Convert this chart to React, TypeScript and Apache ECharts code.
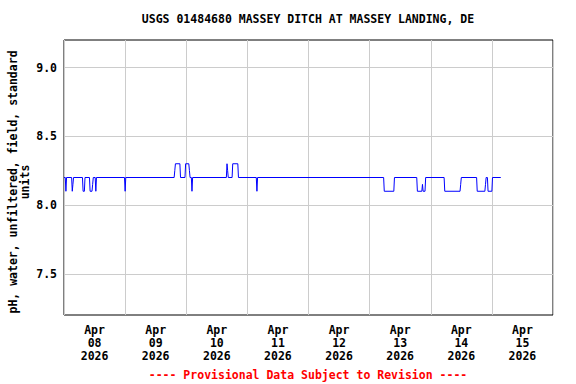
import React, { useEffect, useRef } from "react";
import * as echarts from "echarts";

const titleText = "USGS 01484680 MASSEY DITCH AT MASSEY LANDING, DE";
const yAxisName = "pH, water, unfiltered, field, standard\nunits";
const footerText = "---- Provisional Data Subject to Revision ----";

const dayLabels = [
  "Apr\n08\n2026",
  "Apr\n09\n2026",
  "Apr\n10\n2026",
  "Apr\n11\n2026",
  "Apr\n12\n2026",
  "Apr\n13\n2026",
  "Apr\n14\n2026",
  "Apr\n15\n2026",
];

const yGridValues = [7.5, 8.0, 8.5, 9.0];

const obsTimes = [
  "2026-04-08 00:00", "2026-04-08 00:30", "2026-04-08 00:45", "2026-04-08 01:00",
  "2026-04-08 03:00", "2026-04-08 03:15", "2026-04-08 03:30", "2026-04-08 03:45",
  "2026-04-08 07:15", "2026-04-08 07:30", "2026-04-08 08:00", "2026-04-08 08:15",
  "2026-04-08 10:00", "2026-04-08 10:15", "2026-04-08 11:00", "2026-04-08 11:15",
  "2026-04-08 11:30", "2026-04-08 12:15", "2026-04-08 12:30", "2026-04-08 12:45",
  "2026-04-08 23:45", "2026-04-09 00:00", "2026-04-09 00:15",
  "2026-04-09 19:15", "2026-04-09 19:30", "2026-04-09 19:45", "2026-04-09 21:30",
  "2026-04-09 21:45", "2026-04-09 23:30", "2026-04-09 23:45",
  "2026-04-10 01:00", "2026-04-10 01:15", "2026-04-10 01:30", "2026-04-10 02:00",
  "2026-04-10 02:15", "2026-04-10 02:30", "2026-04-10 15:45", "2026-04-10 16:00",
  "2026-04-10 16:15", "2026-04-10 16:30", "2026-04-10 18:00", "2026-04-10 18:15",
  "2026-04-10 20:15", "2026-04-10 20:30",
  "2026-04-11 03:30", "2026-04-11 03:45", "2026-04-11 04:00",
  "2026-04-13 05:30", "2026-04-13 05:45", "2026-04-13 09:30", "2026-04-13 09:45",
  "2026-04-13 18:30", "2026-04-13 18:45", "2026-04-13 20:30", "2026-04-13 20:45",
  "2026-04-13 21:00", "2026-04-13 21:45", "2026-04-13 22:00",
  "2026-04-14 05:15", "2026-04-14 05:30", "2026-04-14 11:30", "2026-04-14 11:45",
  "2026-04-14 12:00", "2026-04-14 18:00", "2026-04-14 18:15", "2026-04-14 21:15",
  "2026-04-14 21:30", "2026-04-14 21:45", "2026-04-14 22:15", "2026-04-14 22:30",
  "2026-04-15 00:00", "2026-04-15 00:15", "2026-04-15 03:30",
];

const obsValues = [
  8.2, 8.2, 8.1, 8.2,
  8.2, 8.1, 8.15, 8.2,
  8.2, 8.1, 8.1, 8.2,
  8.2, 8.1, 8.1, 8.15,
  8.2, 8.2, 8.1, 8.2,
  8.2, 8.1, 8.2,
  8.2, 8.25, 8.3, 8.3,
  8.2, 8.2, 8.3,
  8.3, 8.25, 8.2, 8.2,
  8.1, 8.2, 8.2, 8.3,
  8.25, 8.2, 8.2, 8.3,
  8.3, 8.2,
  8.2, 8.1, 8.2,
  8.2, 8.1, 8.1, 8.2,
  8.2, 8.1, 8.1, 8.15,
  8.1, 8.1, 8.2,
  8.2, 8.1, 8.1, 8.15,
  8.2, 8.2, 8.1, 8.1,
  8.15, 8.2, 8.2, 8.1,
  8.1, 8.2, 8.2,
];

const axisStart = "2026-04-08 00:00";
const axisEnd = "2026-04-16 00:00";

const FONT = "DejaVu Sans Mono";

function parseLocal(s: string): number {
  const [d, t] = s.split(" ");
  const [y, m, dd] = d.split("-").map(Number);
  const [hh, mm] = t.split(":").map(Number);
  return new Date(y, m - 1, dd, hh, mm).getTime();
}

export default function App() {
  const ref = useRef<HTMLDivElement>(null);

  useEffect(() => {
    if (!ref.current) return;
    const chart = echarts.init(ref.current, null, { renderer: "svg" });
    const seriesData = obsTimes.map((t, i) => [parseLocal(t), obsValues[i]]);
    const textStyle = { fontFamily: FONT, fontWeight: "bold" as const, fontSize: 11.5, color: "#000" };

    chart.setOption({
      animation: false,
      backgroundColor: "#fff",
      grid: {
        left: 64,
        right: 23,
        top: 40,
        bottom: 69,
        show: true,
        borderColor: "#000",
        borderWidth: 1,
        backgroundColor: "#fff",
      },
      xAxis: [
        {
          type: "time",
          min: parseLocal(axisStart),
          max: parseLocal(axisEnd),
          show: false,
        },
        {
          type: "category",
          data: dayLabels,
          boundaryGap: true,
          position: "bottom",
          axisLine: { show: false },
          axisTick: { show: false },
          splitLine: { show: true, interval: 0, lineStyle: { color: "#cccccc", width: 1 } },
          axisLabel: {
            interval: 0,
            margin: 8,
            lineHeight: 13,
            ...textStyle,
          },
        },
      ],
      yAxis: {
        type: "value",
        min: 7.2,
        max: 9.2,
        interval: 0.1,
        axisLine: { show: false },
        axisTick: { show: false },
        splitLine: { show: false },
        axisLabel: {
          margin: 7,
          ...textStyle,
          formatter: (v: number) => {
            const r = Math.round(v * 10);
            return r % 5 === 0 ? (r / 10).toFixed(1) : "";
          },
        },
      },
      series: [
        {
          type: "line",
          xAxisIndex: 0,
          data: seriesData,
          showSymbol: false,
          symbol: "none",
          lineStyle: { color: "#0000ff", width: 1 },
          z: 5,
          markLine: {
            silent: true,
            symbol: "none",
            label: { show: false },
            lineStyle: { color: "#cccccc", width: 1, type: "solid" },
            data: yGridValues.map((v) => ({ yAxis: v })),
            z: 1,
          },
        },
      ],
      graphic: [
        {
          type: "text",
          x: 308,
          y: 19,
          style: {
            text: titleText,
            textAlign: "center",
            textVerticalAlign: "middle",
            font: `bold 11.5px "${FONT}"`,
            fill: "#000",
          },
        },
        {
          type: "text",
          x: 19,
          y: 182,
          rotation: Math.PI / 2,
          style: {
            text: yAxisName,
            textAlign: "center",
            textVerticalAlign: "middle",
            font: `bold 11.5px "${FONT}"`,
            lineHeight: 12,
            fill: "#000",
          },
        },
        {
          type: "text",
          x: 308,
          y: 375,
          style: {
            text: footerText,
            textAlign: "center",
            textVerticalAlign: "middle",
            font: `bold 11.5px "${FONT}"`,
            fill: "#ff0000",
          },
        },
      ],
    });

    return () => chart.dispose();
  }, []);

  return (
    <div
      ref={ref}
      style={{ position: "fixed", left: 0, top: 0, width: 576, height: 384 }}
    />
  );
}
